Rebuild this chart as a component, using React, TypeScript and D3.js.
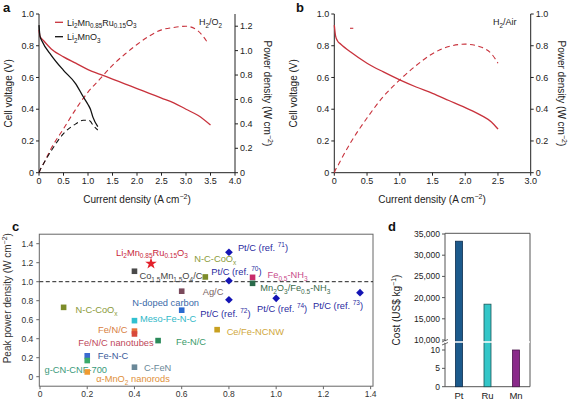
import React from "react";
import * as d3 from "d3";

const FONT = "'Liberation Sans', Arial, Helvetica, sans-serif";

// ---------- Panel a (H2/O2) ----------
const aCurrentRu = [0, 0.02, 0.1, 0.25, 0.5, 0.75, 1.0, 1.25, 1.5, 1.75, 2.0, 2.25, 2.5, 2.75, 3.0, 3.25, 3.5];
const aVoltageRu = [0.9, 0.86, 0.83, 0.78, 0.73, 0.69, 0.65, 0.62, 0.59, 0.56, 0.53, 0.5, 0.47, 0.44, 0.4, 0.36, 0.3];
const aPowerCurrentRu = [0, 0.02, 0.1, 0.25, 0.5, 0.75, 1.0, 1.25, 1.5, 1.75, 2.0, 2.25, 2.5, 2.75, 3.0, 3.25, 3.45];
const aPowerRu = [0, 0.02, 0.08, 0.2, 0.36, 0.52, 0.66, 0.77, 0.88, 0.97, 1.05, 1.12, 1.17, 1.19, 1.2, 1.16, 1.06];

const aCurrentMn = [0, 0.02, 0.06, 0.25, 0.5, 0.75, 0.9, 1.0, 1.05, 1.1, 1.2];
const aVoltageMn = [0.93, 0.86, 0.83, 0.74, 0.645, 0.56, 0.48, 0.43, 0.4, 0.35, 0.29];
const aPowerMn = [0, 0.02, 0.05, 0.18, 0.32, 0.4, 0.43, 0.43, 0.42, 0.39, 0.35];

// ---------- Panel b (H2/Air) ----------
const bCurrent = [0, 0.02, 0.05, 0.1, 0.25, 0.5, 0.75, 1.0, 1.25, 1.5, 1.75, 2.0, 2.25, 2.4, 2.5];
const bVoltage = [0.93, 0.86, 0.83, 0.81, 0.76, 0.69, 0.635, 0.585, 0.54, 0.5, 0.455, 0.41, 0.36, 0.32, 0.275];
const bPower = [0, 0.02, 0.04, 0.08, 0.19, 0.345, 0.48, 0.585, 0.675, 0.75, 0.795, 0.81, 0.79, 0.75, 0.69];

// ---------- Panel c (peak power density comparison) ----------
const cNames = [
  "Li_{2}Mn_{0.85}Ru_{0.15}O_{3}", "Co_{1.5}Mn_{1.5}O_{4}/C", "N-C-CoO_{x}", "N-C-CoO_{x}", "Ag/C",
  "N-doped carbon", "Meso-Fe-N-C", "Fe/N/C", "Fe/N/C nanotubes", "Fe-N/C", "Fe-N-C",
  "g-CN-CNF-700", "α-MnO_{2} nanorods", "C-FeN", "Pt/C (ref. ^{71})", "Pt/C (ref. ^{70})",
  "Pt/C (ref. ^{72})", "Pt/C (ref. ^{74})", "Pt/C (ref. ^{73})", "Fe_{0.5}-NH_{3}",
  "Mn_{2}O_{3}/Fe_{0.5}-NH_{3}", "Ce/Fe-NCNW",
];
const cLoading = [0.47, 0.4, 0.1, 0.7, 0.6, 0.6, 0.4, 0.4, 0.4, 0.5, 0.2, 0.2, 0.2, 0.4, 0.8, 0.8, 0.8, 1.0, 1.355, 0.9, 0.9, 0.75];
const cPeak = [1.19, 1.11, 0.73, 1.05, 0.9, 0.7, 0.59, 0.48, 0.45, 0.38, 0.22, 0.17, 0.05, 0.1, 1.31, 1.01, 0.81, 0.825, 0.884, 1.046, 0.983, 0.495];
const cXTicks = [0, 0.2, 0.4, 0.6, 0.8, 1.0, 1.2, 1.4];
const cYTicks = [0, 0.2, 0.4, 0.6, 0.8, 1.0, 1.2, 1.4];

// styles for panel c (marker, marker colour, label colour, label offset dx, dy, anchor)
const cStyle: [string, string, string, number, number, string][] = [
  ["star", "#e3202b", "#c8283c", 1, -8, "middle"],
  ["square", "#4a4a4a", "#454545", 5, 8, "start"],
  ["square", "#7d8c2a", "#8a9a3a", 12, 5.5, "start"],
  ["square", "#7d8c2a", "#8a9a3a", 10, -14.5, "middle"],
  ["square", "#7a4a5c", "#7a6565", 21, 4, "start"],
  ["square", "#2a6ad0", "#3a6aa8", -16, -4.5, "middle"],
  ["square", "#30c0d0", "#30b8c8", 5.5, 1, "start"],
  ["square", "#e8703a", "#d8803f", -7, 2, "end"],
  ["square", "#d8483a", "#c0485a", -18.5, 12, "middle"],
  ["square", "#2a8a5a", "#3a9a6a", 18, 4.5, "start"],
  ["square", "#3a6ad0", "#3a5a9a", 10.5, 3.5, "start"],
  ["square", "#3aaa6a", "#3a9a7a", -11.5, 12, "middle"],
  ["square", "#f09a30", "#e0903a", 9, 10, "start"],
  ["square", "#6a8898", "#6a8898", 9.5, 3.5, "start"],
  ["diamond", "#1414b4", "#2a2aa0", 9, -1, "start"],
  ["diamond", "#1414b4", "#2a2aa0", 7.5, -6, "middle"],
  ["diamond", "#1414b4", "#2a2aa0", -3.5, 17, "middle"],
  ["diamond", "#1414b4", "#2a2aa0", 6, 14, "middle"],
  ["diamond", "#1414b4", "#2a2aa0", -22, 16, "middle"],
  ["square", "#c82a6a", "#c84a8a", 15, 1, "start"],
  ["square", "#2a6a4a", "#3a6a4a", 7.7, 8, "start"],
  ["square", "#c8a020", "#d0a840", 9.5, 5.5, "start"],
];

// ---------- Panel d (cost) ----------
const dMetals = ["Pt", "Ru", "Mn"];
const dCost = [33300, 18450, 10];
const dUpperTicks = [10000, 15000, 20000, 25000, 30000, 35000];
const dLowerTicks = [0, 5, 10];
const dFill = ["#1c5a8c", "#34c6c8", "#8a2a8a"];
const dStroke = ["#0c2c4c", "#1a5658", "#4a144a"];

// ---------- helpers ----------
function Rich(props: any) {
  const { text, fontSize = 9, ...rest } = props;
  const tokens: { t: string; mode: string }[] = [];
  const re = /([_^])\{([^}]*)\}/g;
  let last = 0;
  let m: RegExpExecArray | null;
  while ((m = re.exec(text))) {
    if (m.index > last) tokens.push({ t: text.slice(last, m.index), mode: "n" });
    tokens.push({ t: m[2], mode: m[1] === "_" ? "sub" : "sup" });
    last = re.lastIndex;
  }
  if (last < text.length) tokens.push({ t: text.slice(last), mode: "n" });
  let cur = 0;
  const spans = tokens.map((tk, i) => {
    const target = tk.mode === "sub" ? fontSize * 0.3 : tk.mode === "sup" ? -fontSize * 0.42 : 0;
    const dy = target - cur;
    cur = target;
    return (
      <tspan key={i} dy={dy} fontSize={tk.mode === "n" ? fontSize : fontSize * 0.7}>
        {tk.t}
      </tspan>
    );
  });
  return (
    <text fontSize={fontSize} {...rest}>
      {spans}
    </text>
  );
}

const fmt1 = (v: number) => (v === 0 ? "0" : d3.format(".1f")(v));

function DualPanel(props: any) {
  const { x, y, p, xTicks, yTicks, pTicks, series, label, labelX, note, noteX, leftTitleX, rightTitleX, xTitleX } = props;
  const [x0, x1] = x.range();
  const y0 = y.range()[0];
  const y1 = y.range()[1];
  const tc = "#222";
  return (
    <g>
      <text x={labelX} y={12} fontSize={13} fontWeight="bold" fill="#111">{label}</text>
      <line x1={x0} x2={x1} y1={y0} y2={y0} stroke={tc} strokeWidth={1} />
      <line x1={x0} x2={x0} y1={y0} y2={y1} stroke={tc} strokeWidth={1} />
      <line x1={x1} x2={x1} y1={y0} y2={y1} stroke={tc} strokeWidth={1} />
      {xTicks.map((t: number) => (
        <g key={"x" + t}>
          <line x1={x(t)} x2={x(t)} y1={y0} y2={y0 + 3} stroke={tc} />
          <text x={x(t)} y={y0 + 11} fontSize={9} textAnchor="middle" fill={tc}>{fmt1(t)}</text>
        </g>
      ))}
      {yTicks.map((t: number) => (
        <g key={"y" + t}>
          <line x1={x0 - 3} x2={x0} y1={y(t)} y2={y(t)} stroke={tc} />
          <text x={x0 - 5} y={y(t) + 3.2} fontSize={9} textAnchor="end" fill={tc}>{fmt1(t)}</text>
        </g>
      ))}
      {pTicks.map((t: number) => (
        <g key={"p" + t}>
          <line x1={x1} x2={x1 + 3} y1={p(t)} y2={p(t)} stroke={tc} />
          <text x={x1 + 5} y={p(t) + 3.2} fontSize={9} textAnchor="start" fill={tc}>{fmt1(t)}</text>
        </g>
      ))}
      <Rich text="Current density (A cm^{−2})" x={xTitleX} y={203} fontSize={10} textAnchor="middle" fill={tc} />
      <text transform={`translate(${leftTitleX},${(y0 + y1) / 2}) rotate(-90)`} fontSize={10} textAnchor="middle" fill={tc}>Cell voltage (V)</text>
      <Rich text="Power density (W cm^{−2})" transform={`translate(${rightTitleX},${(y0 + y1) / 2}) rotate(90)`} fontSize={10} textAnchor="middle" fill={tc} />
      <Rich text={note} x={noteX} y={25} fontSize={9} fill={tc} />
      {series.map((s: any, i: number) => {
        const scaleY = s.power ? p : y;
        const gen = d3
          .line<number>()
          .x((_, k) => x(s.xs[k]))
          .y((v) => scaleY(v))
          .curve(d3.curveMonotoneX);
        return (
          <path
            key={i}
            d={gen(s.ys) || ""}
            fill="none"
            stroke={s.color}
            strokeWidth={s.power ? 1.1 : 1.3}
            strokeDasharray={s.power ? "5,3.5" : undefined}
          />
        );
      })}
    </g>
  );
}

export default function App() {
  const xA = d3.scaleLinear().domain([0, 4]).range([39, 235]);
  const yA = d3.scaleLinear().domain([0, 1]).range([172.7, 14]);
  const pA = d3.scaleLinear().domain([0, 1.3]).range([172.7, 14]);
  const xB = d3.scaleLinear().domain([0, 3]).range([334.3, 530.7]);
  const yB = d3.scaleLinear().domain([0, 1]).range([172.7, 14]);
  const pB = d3.scaleLinear().domain([0, 1]).range([172.7, 14]);
  const xC = d3.scaleLinear().domain([0, 1.41]).range([40, 373]);
  const yC = d3.scaleLinear().domain([-0.1, 1.5]).range([386.2, 234.2]);
  const xD = d3.scalePoint<string>().domain(dMetals).range([459, 516]);
  const yDUp = d3.scaleLinear().domain([10000, 35000]).range([340, 234]);
  const yDLo = d3.scaleLinear().domain([0, 10]).range([386.7, 350]);
  const dBottom = 386.7;

  const red = "#c8323c";
  const ruLabel = "Li_{2}Mn_{0.85}Ru_{0.15}O_{3}";

  const starPath = d3.symbol().type(d3.symbolStar).size(42)() || "";
  const diamondPath = d3.symbol().type(d3.symbolDiamond2).size(38)() || "";

  const cGrey = "#333";
  const cx0 = xC.range()[0] - 0.7;
  const cx1 = xC.range()[1];
  const cy0 = yC.range()[0];
  const cy1 = yC.range()[1];

  return (
    <svg
      width={569}
      height={404}
      style={{ position: "absolute", left: 0, top: 0, background: "#fff" }}
      fontFamily={FONT}
    >
      <rect x={0} y={0} width={569} height={404} fill="#fff" />
      <DualPanel
        x={xA}
        y={yA}
        p={pA}
        xTicks={[0, 0.5, 1, 1.5, 2, 2.5, 3, 3.5, 4]}
        yTicks={[0, 0.2, 0.4, 0.6, 0.8, 1.0]}
        pTicks={[0, 0.2, 0.4, 0.6, 0.8, 1.0, 1.2]}
        label="a"
        labelX={3}
        note="H_{2}/O_{2}"
        noteX={199}
        leftTitleX={12}
        rightTitleX={263.5}
        xTitleX={137}
        series={[
          { xs: aCurrentRu, ys: aVoltageRu, color: red },
          { xs: aPowerCurrentRu, ys: aPowerRu, color: red, power: true },
          { xs: aCurrentMn, ys: aVoltageMn, color: "#111" },
          { xs: aCurrentMn, ys: aPowerMn, color: "#111", power: true },
        ]}
      />
      <line x1={55} x2={63} y1={22.3} y2={22.3} stroke={red} strokeWidth={1.3} />
      <Rich text={ruLabel} x={67} y={25.5} fontSize={9} fill="#222" />
      <line x1={55} x2={63} y1={36.7} y2={36.7} stroke="#111" strokeWidth={1.3} />
      <Rich text="Li_{2}MnO_{3}" x={67} y={40} fontSize={9} fill="#222" />

      <DualPanel
        x={xB}
        y={yB}
        p={pB}
        xTicks={[0, 0.5, 1, 1.5, 2, 2.5, 3]}
        yTicks={[0, 0.2, 0.4, 0.6, 0.8, 1.0]}
        pTicks={[0, 0.2, 0.4, 0.6, 0.8, 1.0]}
        label="b"
        labelX={296}
        note="H_{2}/Air"
        noteX={493}
        leftTitleX={297}
        rightTitleX={558}
        xTitleX={432}
        series={[
          { xs: bCurrent, ys: bVoltage, color: red },
          { xs: bCurrent, ys: bPower, color: red, power: true },
        ]}
      />
      <line x1={xB(0.24)} x2={xB(0.29)} y1={yB(0.91)} y2={yB(0.91)} stroke={red} strokeWidth={1.1} />

      <text x={12} y={231} fontSize={13} fontWeight="bold" fill="#111">c</text>
      <rect x={cx0} y={cy1} width={cx1 - cx0} height={cy0 - cy1} fill="none" stroke="#666" strokeWidth={1} />
      <line x1={cx0} x2={cx1} y1={yC(1)} y2={yC(1)} stroke="#222" strokeWidth={1} strokeDasharray="4,2.5" />
      {cXTicks.map((t) => (
        <g key={"cx" + t}>
          <line x1={xC(t)} x2={xC(t)} y1={cy0} y2={cy0 + 3} stroke="#666" />
          <text x={xC(t)} y={cy0 + 10.5} fontSize={8.5} textAnchor="middle" fill={cGrey}>{fmt1(t)}</text>
        </g>
      ))}
      {cYTicks.map((t) => (
        <g key={"cy" + t}>
          <line x1={cx0 - 3} x2={cx0} y1={yC(t)} y2={yC(t)} stroke="#666" />
          <text x={cx0 - 6} y={yC(t) + 3} fontSize={8.5} textAnchor="end" fill={cGrey}>{fmt1(t)}</text>
        </g>
      ))}
      <Rich
        text="Peak power density (W cm^{−2})"
        transform={`translate(11,${(cy0 + cy1) / 2 - 12}) rotate(-90)`}
        fontSize={10}
        textAnchor="middle"
        fill={cGrey}
      />
      {cNames.map((name, i) => {
        const [marker, mc, lc, dx, dy, anchor] = cStyle[i];
        const px = xC(cLoading[i]);
        const py = yC(cPeak[i]);
        return (
          <g key={"c" + i}>
            {marker === "square" && <rect x={px - 2.8} y={py - 2.8} width={5.6} height={5.6} fill={mc} />}
            {marker === "diamond" && <path d={diamondPath} transform={`translate(${px},${py})`} fill={mc} />}
            {marker === "star" && <path d={starPath} transform={`translate(${px},${py})`} fill={mc} />}
            <Rich text={name} x={px + dx} y={py + dy} fontSize={9.3} textAnchor={anchor} fill={lc} />
          </g>
        );
      })}

      <text x={388} y={231} fontSize={13} fontWeight="bold" fill="#111">d</text>
      <path d={`M445,${dBottom} V233.3 H530 V${dBottom} Z`} fill="none" stroke="#555" strokeWidth={1} />
      {dMetals.map((mtl, i) => {
        const v = dCost[i];
        const top = v > 10 ? yDUp(v) : yDLo(v);
        const cx = xD(mtl) || 0;
        return (
          <g key={mtl}>
            <rect x={cx - 3.5} y={top} width={7} height={dBottom - top} fill={dFill[i]} stroke={dStroke[i]} strokeWidth={0.8} />
            <text x={cx} y={399} fontSize={9.5} textAnchor="middle" fill="#222">{mtl}</text>
          </g>
        );
      })}
      <line x1={445} x2={530} y1={342} y2={342} stroke="#fff" strokeWidth={1.6} />
      <line x1={442} x2={448} y1={342} y2={339.5} stroke="#444" strokeWidth={0.8} />
      <line x1={442} x2={448} y1={345} y2={342.5} stroke="#444" strokeWidth={0.8} />
      <line x1={444} x2={446} y1={341.6} y2={342.6} stroke="#fff" strokeWidth={1.2} />
      {dUpperTicks.map((t) => (
        <g key={"du" + t}>
          <line x1={442} x2={445} y1={yDUp(t)} y2={yDUp(t)} stroke="#555" />
          <text x={440} y={yDUp(t) + 3} fontSize={8.5} textAnchor="end" fill="#222">{d3.format(",")(t)}</text>
        </g>
      ))}
      {dLowerTicks.map((t) => (
        <g key={"dl" + t}>
          <line x1={442} x2={445} y1={yDLo(t)} y2={yDLo(t)} stroke="#555" />
          <text x={440} y={yDLo(t) + 3} fontSize={8.5} textAnchor="end" fill="#222">{t}</text>
        </g>
      ))}
      <Rich
        text="Cost (US$ kg^{−1})"
        transform={`translate(400,310) rotate(-90)`}
        fontSize={10}
        textAnchor="middle"
        fill="#222"
      />
    </svg>
  );
}
